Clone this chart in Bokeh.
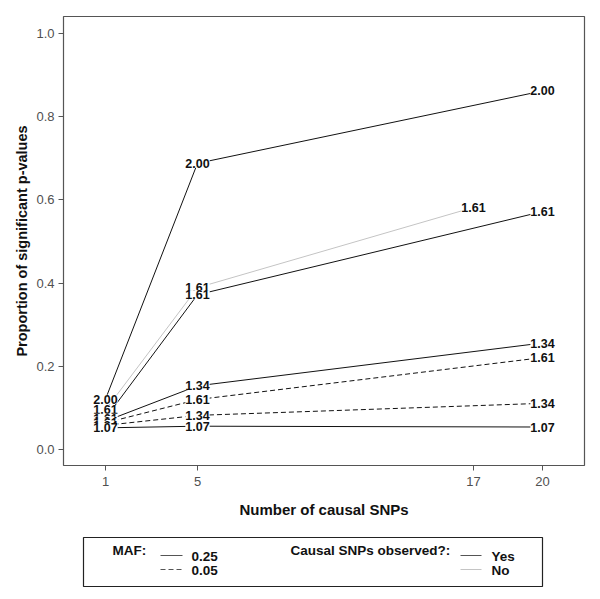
from bokeh.plotting import figure
from bokeh.models import Range1d, FixedTicker, ColumnDataSource, LabelSet, CustomJSTickFormatter
from bokeh.layouts import column
from bokeh.embed import file_html
from bokeh.resources import INLINE
from bokeh.core.properties import value

# ---------------- data ----------------
x_ticks = [1, 5, 17, 20]
y_ticks = [0.0, 0.2, 0.4, 0.6, 0.8, 1.0]

series_label = ["2.00", "1.61", "1.61", "1.34", "1.61", "1.34", "1.07"]
series_maf = ["0.25", "0.25", "0.25", "0.25", "0.05", "0.05", "0.25"]
series_obs = ["Yes", "No", "Yes", "Yes", "Yes", "Yes", "Yes"]
series_x = [
    [1, 5, 20],
    [1, 5, 17],
    [1, 5, 20],
    [1, 5, 20],
    [1, 5, 20],
    [1, 5, 20],
    [1, 5, 20],
]
series_y = [
    [0.121, 0.688, 0.862],
    [0.095, 0.389, 0.582],
    [0.075, 0.372, 0.572],
    [0.068, 0.153, 0.256],
    [0.064, 0.120, 0.221],
    [0.058, 0.082, 0.111],
    [0.052, 0.056, 0.054],
]

maf_levels = ["0.25", "0.05"]
obs_levels = ["Yes", "No"]

# ---------------- styles ----------------
dash_for = {"0.25": "solid", "0.05": "5 3"}
color_for = {"Yes": "#111111", "No": "#c4c4c4"}
FONT = "Liberation Sans"

p = figure(width=600, height=525, output_backend="svg", toolbar_location=None,
           x_range=Range1d(-0.826, 21.826), y_range=Range1d(-0.0385, 1.041),
           min_border_left=63, min_border_right=16, min_border_top=16, min_border_bottom=60)
p.grid.visible = False
p.outline_line_color = "#555555"
p.outline_line_width = 1.2
p.background_fill_color = "white"
p.border_fill_color = "white"

for ax in (p.xaxis[0], p.yaxis[0]):
    ax.axis_line_color = None
    ax.major_tick_line_color = "#555555"
    ax.major_tick_out = 5
    ax.major_tick_in = 0
    ax.minor_tick_line_color = None
    ax.major_label_text_font = FONT
    ax.major_label_text_font_size = "13px"
    ax.major_label_text_color = "#505050"
    ax.axis_label_text_font = FONT
    ax.axis_label_text_font_style = "bold"
    ax.axis_label_text_color = "#111111"

p.xaxis[0].axis_label_text_font_size = "15px"
p.yaxis[0].axis_label_text_font_size = "14.5px"
p.xaxis[0].ticker = FixedTicker(ticks=x_ticks)
p.yaxis[0].ticker = FixedTicker(ticks=y_ticks)
p.yaxis[0].formatter = CustomJSTickFormatter(code="return tick.toFixed(1);")
p.xaxis[0].axis_label = "Number of causal SNPs"
p.yaxis[0].axis_label = "Proportion of significant p-values"
p.xaxis[0].major_label_standoff = 6
p.xaxis[0].axis_label_standoff = 12
p.yaxis[0].major_label_standoff = 4
p.yaxis[0].axis_label_standoff = 3

lab_x, lab_y, lab_t = [], [], []
for xs, ys, lab, maf, obs in zip(series_x, series_y, series_label, series_maf, series_obs):
    p.line(xs, ys, line_color=color_for[obs], line_dash=dash_for[maf], line_width=1)
    for xv, yv in zip(xs, ys):
        lab_x.append(xv)
        lab_y.append(yv)
        lab_t.append(lab)

src = ColumnDataSource(dict(x=lab_x, y=lab_y, t=lab_t))
labels = LabelSet(x="x", y="y", text="t", source=src, text_align="center",
                  text_baseline="middle", text_font=value(FONT), text_font_size=value("12.5px"),
                  text_font_style=value("bold"), text_color=value("#111111"),
                  background_fill_color="white")
p.add_layout(labels)

# ---------------- legend panel ----------------
leg = figure(width=600, height=70, output_backend="svg", toolbar_location=None,
             x_range=Range1d(0, 521), y_range=Range1d(70, 0),
             x_axis_type=None, y_axis_type=None,
             min_border_left=63, min_border_right=16, min_border_top=0, min_border_bottom=0)
leg.grid.visible = False
leg.outline_line_color = None

# legend frame box
leg.quad(left=[20], right=[479], top=[12], bottom=[61], fill_color=None,
         line_color="#222222", line_width=1.2)

tf = dict(text_font=value(FONT), text_font_size=value("13.5px"),
          text_font_style=value("bold"), text_baseline=value("middle"),
          text_color=value("#111111"))
row_y = [30, 44]
leg.text(x=[49], y=[25], text=["MAF:"], **tf)
leg.text(x=[227], y=[25], text=["Causal SNPs observed?:"], **tf)
for lvl, ry in zip(maf_levels, row_y):
    leg.line([97, 119], [ry, ry], line_color="#555555", line_dash=dash_for[lvl], line_width=1)
    leg.text(x=[128], y=[ry + 1], text=[lvl], **tf)
for lvl, ry in zip(obs_levels, row_y):
    leg.line([397, 418], [ry, ry], line_color=("#555555" if lvl == "Yes" else color_for[lvl]),
             line_width=1)
    leg.text(x=[428], y=[ry + 1], text=[lvl], **tf)

layout = column(p, leg, spacing=0)
open("out.html", "w").write(file_html(layout, INLINE))
